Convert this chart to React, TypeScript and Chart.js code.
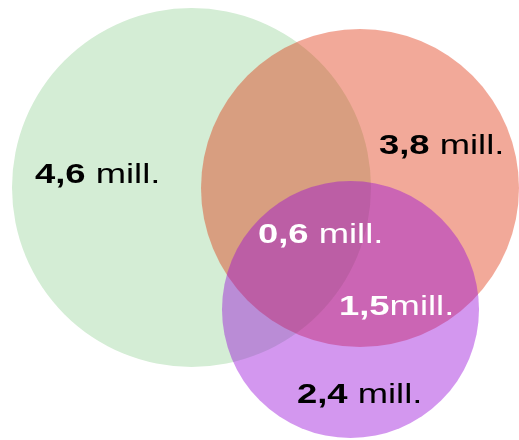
import React, { useEffect, useRef } from "react";
import { Chart, registerables } from "chart.js";

Chart.register(...registerables);

// Venn circles (data units = the 519x440 plotting grid)
const setNames = ["A", "B", "C"];
const circleX = [191.5, 360, 350.5];
const circleY = [187.5, 188, 309.5];
const circleR = [179.5, 159, 128.5];
const circleColors = [
  "rgb(212,237,213)",
  "rgba(222,40,0,0.4)",
  "rgba(150,7,217,0.42)",
];

// Region labels
const labelValues = ["4,6", "3,8", "0,6", "1,5", "2,4"];
const labelUnits = [" mill.", " mill.", " mill.", "mill.", " mill."];
const labelX = [35, 379, 258, 339, 297];
const labelY = [183, 154, 243, 315, 403];
const labelColors = ["#000000", "#000000", "#ffffff", "#ffffff", "#000000"];

const W = 519;
const H = 440;

const labelPlugin = {
  id: "vennLabels",
  afterDatasetsDraw(chart: any) {
    const ctx = chart.ctx;
    const xs = chart.scales.x;
    const ys = chart.scales.y;
    const size = 28;
    const sx = 1.3;
    labelValues.forEach((v, i) => {
      const px = xs.getPixelForValue(labelX[i]);
      const py = ys.getPixelForValue(labelY[i]);
      ctx.save();
      ctx.translate(px, py);
      ctx.scale(sx, 1);
      ctx.fillStyle = labelColors[i];
      ctx.textBaseline = "alphabetic";
      ctx.textAlign = "left";
      ctx.font = `bold ${size}px "Liberation Sans", Arial, sans-serif`;
      ctx.fillText(v, 0, 0);
      const w = ctx.measureText(v).width;
      ctx.font = `${size}px "Liberation Sans", Arial, sans-serif`;
      ctx.fillText(labelUnits[i], w, 0);
      ctx.restore();
    });
  },
};

export default function App() {
  const ref = useRef<HTMLCanvasElement>(null);
  useEffect(() => {
    if (!ref.current) return;
    const chart = new Chart(ref.current, {
      type: "bubble",
      data: {
        datasets: setNames.map((name, i) => ({
          label: name,
          data: [{ x: circleX[i], y: circleY[i], r: circleR[i] }],
          backgroundColor: circleColors[i],
          borderWidth: 0,
          hoverBorderWidth: 0,
          order: setNames.length - i,
          clip: false as any,
        })),
      },
      options: {
        animation: false,
        responsive: false,
        maintainAspectRatio: false,
        events: [],
        layout: { padding: 0, autoPadding: false },
        plugins: { legend: { display: false }, tooltip: { enabled: false } },
        scales: {
          x: { type: "linear", min: 0, max: W, display: false, offset: false },
          y: { type: "linear", min: 0, max: H, reverse: true, display: false, offset: false },
        },
      },
      plugins: [labelPlugin],
    });
    return () => chart.destroy();
  }, []);
  return (
    <div style={{ position: "fixed", left: 0, top: 0, width: W, height: H, background: "#fff" }}>
      <canvas ref={ref} width={W} height={H} style={{ display: "block", width: W, height: H }} />
    </div>
  );
}
